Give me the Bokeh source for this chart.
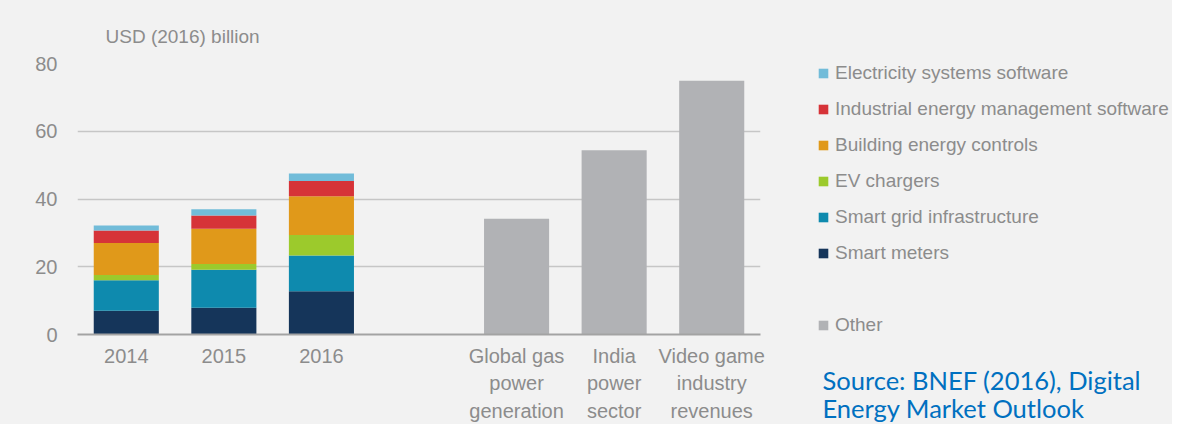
from bokeh.plotting import figure
from bokeh.layouts import row
from bokeh.models import (ColumnDataSource, Range1d, FixedTicker, Legend, LegendItem, Label)
from bokeh.embed import file_html
from bokeh.resources import INLINE

# ---- data ----
years = ["2014", "2015", "2016"]
year_pos = [0, 1, 2]
smart_meters = [7.0, 7.9, 12.8]
smart_grid = [9.0, 11.2, 10.5]
ev_chargers = [1.6, 1.7, 6.1]
building_controls = [9.4, 10.4, 11.4]
industrial_software = [3.7, 3.9, 4.5]
electricity_software = [1.5, 1.9, 2.2]

other_labels = ["Global gas\npower\ngeneration", "India\npower\nsector", "Video game\nindustry\nrevenues"]
other_pos = [4, 5, 6]
other_values = [34.2, 54.4, 74.9]

series_names = ["Smart meters", "Smart grid infrastructure", "EV chargers",
                "Building energy controls", "Industrial energy management software",
                "Electricity systems software"]
series_keys = ["meters", "grid", "ev", "building", "industrial", "electricity"]
series_colors = ["#15355a", "#0e8aae", "#9cca2c", "#e0991a", "#d63338", "#72bcd9"]
other_name = "Other"
other_color = "#b1b2b5"

y_ticks = [0, 20, 40, 60, 80]
source_lines = ["Source: BNEF (2016), Digital", "Energy Market Outlook"]

TEXT = "#8c8c8c"
FONT = "Liberation Sans"
BG = "#f2f2f2"
H = 424

# ---- main chart ----
p = figure(width=790, height=H, output_backend="svg", toolbar_location=None,
           x_range=Range1d(-0.5, 6.5), y_range=Range1d(0, 80),
           min_border_left=77, min_border_right=30, min_border_top=63, min_border_bottom=86)
p.frame_align = False
p.background_fill_color = BG
p.border_fill_color = BG
p.outline_line_color = None

src = ColumnDataSource(dict(x=year_pos, meters=smart_meters, grid=smart_grid, ev=ev_chargers,
                            building=building_controls, industrial=industrial_software,
                            electricity=electricity_software))
stack = p.vbar_stack(series_keys, x="x", width=0.667, source=src, color=series_colors,
                     line_color=None)

osrc = ColumnDataSource(dict(x=other_pos, top=other_values))
p.vbar(x="x", top="top", width=0.667, source=osrc, color=other_color, line_color=None)

p.xaxis.ticker = FixedTicker(ticks=year_pos + other_pos)
p.xaxis.major_label_overrides = {**{pos: lab for pos, lab in zip(year_pos, years)},
                                 **{pos: lab for pos, lab in zip(other_pos, other_labels)}}
p.xaxis.axis_line_color = "#a3a3a3"
p.xaxis.axis_line_width = 2
p.xaxis.major_tick_line_color = None
p.xaxis.minor_tick_line_color = None
p.xaxis.major_tick_out = 0
p.xaxis.major_tick_in = 0
p.xaxis.major_label_standoff = 10
p.xaxis.major_label_text_font = FONT
p.xaxis.major_label_text_font_size = "20px"
p.xaxis.major_label_text_color = TEXT
p.xaxis.major_label_text_line_height = 1.25

p.yaxis.ticker = FixedTicker(ticks=y_ticks)
p.yaxis.axis_line_color = None
p.yaxis.major_tick_line_color = None
p.yaxis.minor_tick_line_color = None
p.yaxis.major_tick_out = 0
p.yaxis.major_tick_in = 0
p.yaxis.major_label_standoff = 20
p.yaxis.major_label_text_font = FONT
p.yaxis.major_label_text_font_size = "20px"
p.yaxis.major_label_text_color = TEXT

p.xgrid.grid_line_color = None
p.ygrid.grid_line_color = "#c6c6c6"
p.ygrid.grid_line_width = 1.5

p.title.text = "USD (2016) billion"
p.title.align = "left"
p.title.offset = 28
p.title.standoff = 33
p.title.text_font = FONT
p.title.text_font_size = "19px"
p.title.text_font_style = "normal"
p.title.text_color = TEXT

# ---- legend + source panel ----
q = figure(width=1172 - 790, height=H, output_backend="svg", toolbar_location=None,
           x_range=Range1d(0, 1), y_range=Range1d(0, 1),
           min_border_left=0, min_border_right=0, min_border_top=0, min_border_bottom=0)
q.frame_align = False
q.axis.visible = False
q.grid.visible = False
q.background_fill_color = BG
q.border_fill_color = BG
q.outline_line_color = None

names_all = series_names + [other_name]
colors_all = series_colors + [other_color]
swatch = {n: q.vbar(x=[-5], top=[0], width=0.1, color=c, line_color=None)
          for n, c in zip(names_all, colors_all)}
blank = q.vbar(x=[-5], top=[0], width=0.1, fill_alpha=0, line_alpha=0)

items = [LegendItem(label=n, renderers=[swatch[n]]) for n in reversed(series_names)]
items.append(LegendItem(label=" ", renderers=[blank]))
items.append(LegendItem(label=other_name, renderers=[swatch[other_name]]))
legend = Legend(items=items, location=(27, 88), orientation="vertical",
                glyph_width=12, glyph_height=12, label_standoff=6, label_height=22,
                spacing=14, padding=0, margin=0, border_line_color=None,
                background_fill_alpha=0, label_text_font=FONT,
                label_text_font_size="19px", label_text_color=TEXT)
q.add_layout(legend)

for i, line in enumerate(source_lines):
    q.add_layout(Label(x=32, y=45 - 28 * i, x_units="screen", y_units="screen",
                       text=line, text_font="Lato", text_font_size="25.5px",
                       text_color="#0070c0", text_baseline="middle"))

layout = row(p, q, styles={"background-color": BG})
open("out.html", "w").write(file_html(layout, INLINE))
